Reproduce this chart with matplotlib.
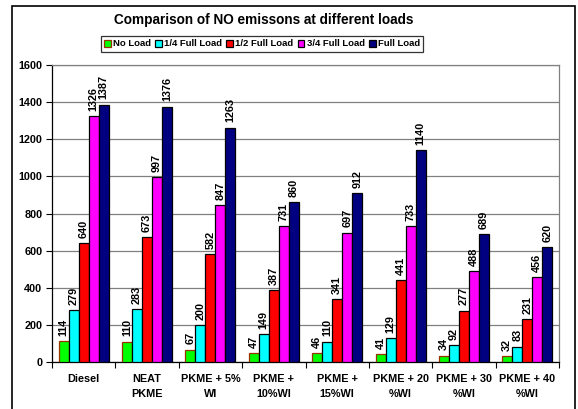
import matplotlib
matplotlib.use("Agg")
import matplotlib.pyplot as plt
from matplotlib.patches import Rectangle
import numpy as np

plt.rcParams['font.family'] = ['Liberation Sans', 'DejaVu Sans']

categories = ["Diesel", "NEAT\nPKME", "PKME + 5%\nWI", "PKME +\n10%WI",
              "PKME +\n15%WI", "PKME + 20\n%WI", "PKME + 30\n%WI", "PKME + 40\n%WI"]
series_names = ["No Load", "1/4 Full Load", "1/2 Full Load", "3/4 Full Load", "Full Load"]
no_load = [114, 110, 67, 47, 46, 41, 34, 32]
quarter_load = [279, 283, 200, 149, 110, 129, 92, 83]
half_load = [640, 673, 582, 387, 341, 441, 277, 231]
three_quarter_load = [1326, 997, 847, 731, 697, 733, 488, 456]
full_load = [1387, 1376, 1263, 860, 912, 1140, 689, 620]
yticks = [0, 200, 400, 600, 800, 1000, 1200, 1400, 1600]

series = [no_load, quarter_load, half_load, three_quarter_load, full_load]
colors = ["#00FF00", "#00FFFF", "#FF0000", "#FF00FF", "#000080"]
edges = ["#993300", "black", "black", "black", "black"]

W, H = 578, 409
fig = plt.figure(figsize=(W / 100, H / 100), dpi=100)
ax = fig.add_axes([52 / W, 1 - 362 / H, (559 - 52) / W, (362 - 65) / H])

n = len(series)
bw = 0.158
x = np.arange(len(categories))
for i, (vals, c, ec, name) in enumerate(zip(series, colors, edges, series_names)):
    pos = x + (i - (n - 1) / 2) * bw
    bars = ax.bar(pos, vals, width=bw, color=c, edgecolor=ec, linewidth=0.9,
                  label=name, zorder=3)
    for b, v in zip(bars, vals):
        ax.text(b.get_x() + b.get_width() / 2, v + 28, f"{v}", rotation=90,
                ha="center", va="bottom", fontsize=7.8, fontweight="bold",
                color="black", zorder=4)

ax.set_xlim(-0.5, len(categories) - 0.5)
ax.set_ylim(0, 1600)
ax.set_yticks(yticks)
ax.set_yticklabels([str(t) for t in yticks], fontsize=7.8, fontweight="bold")
ax.yaxis.grid(True, color="#808080", linewidth=0.9, zorder=0)
ax.set_axisbelow(True)

ax.set_xticks(x)
ax.set_xticklabels(categories, fontsize=7.8, fontweight="bold", linespacing=1.55)
ax.tick_params(axis="x", length=0, pad=9)
ax.set_xticks(np.arange(-0.5, len(categories)), minor=True)
ax.tick_params(axis="x", which="minor", length=4, width=0.8, direction="out")
ax.tick_params(axis="y", length=4, width=0.8, direction="out", pad=3)

for s in ["top", "right"]:
    ax.spines[s].set_color("#808080")
    ax.spines[s].set_linewidth(0.9)
for s in ["left", "bottom"]:
    ax.spines[s].set_color("black")
    ax.spines[s].set_linewidth(0.9)

fig.text(264 / W, 1 - 20 / H, "Comparison of NO emissons at different loads",
         ha="center", va="center", fontsize=9.8, fontweight="bold")

leg = fig.legend(loc="center", bbox_to_anchor=(262 / W, 1 - 44 / H), ncol=5,
                 frameon=True, fancybox=False, edgecolor="black",
                 prop={"size": 6.8, "weight": "bold"}, handlelength=0.7,
                 handleheight=0.7, handletextpad=0.25, columnspacing=0.45,
                 borderpad=0.35, borderaxespad=0)
leg.get_frame().set_linewidth(0.9)

# outer chart border
fig.patches.append(Rectangle((12 / W, -0.05), (575 - 12) / W, 1.05 - 6 / H,
                             transform=fig.transFigure, fill=False,
                             edgecolor="black", linewidth=1.2))

fig.savefig("out.png", dpi=100)
